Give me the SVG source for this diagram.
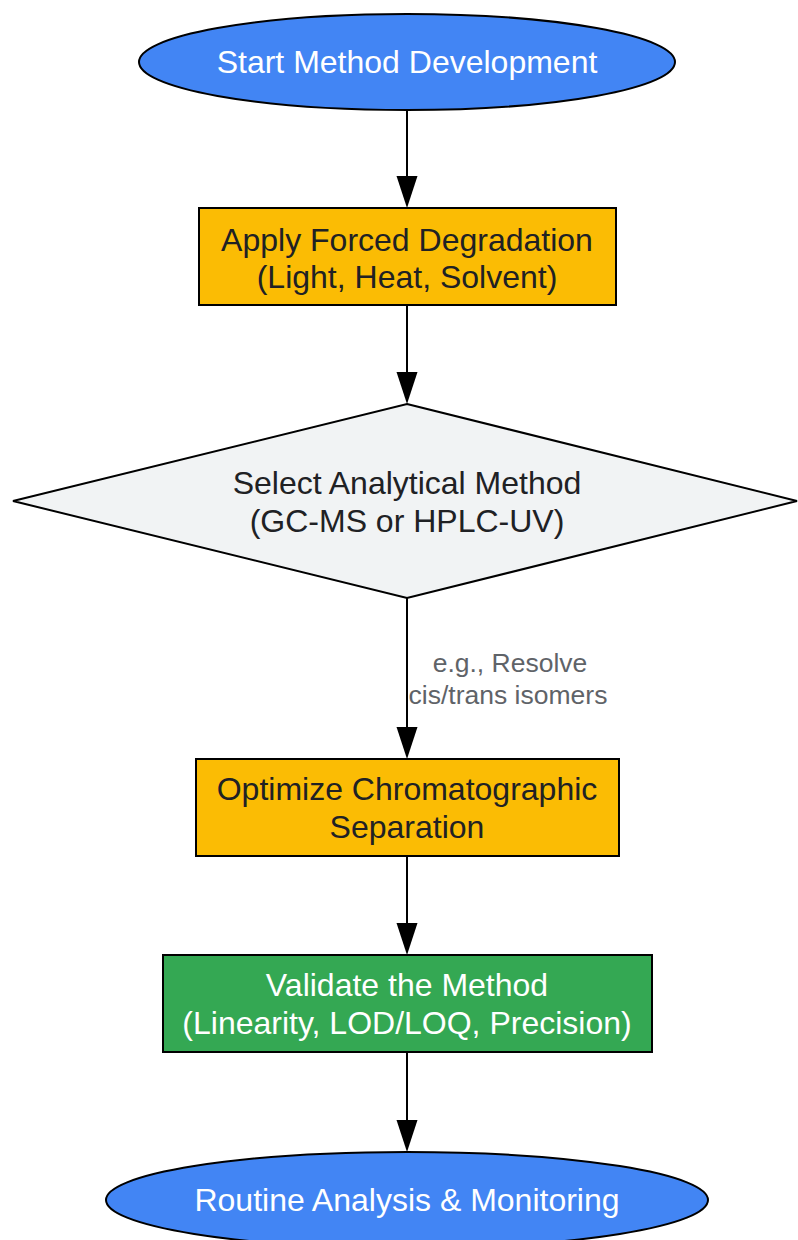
<svg xmlns="http://www.w3.org/2000/svg" width="798" height="1240" viewBox="0 0 798 1240">
<defs>
<style>
.n{stroke:#000;stroke-width:2}
.t{font-family:"Liberation Sans",Arial,sans-serif;font-size:32px;text-anchor:middle}
.w{fill:#fff}
.d{fill:#202124}
.e{stroke:#000;stroke-width:2;fill:none}
.h{fill:#000}
.l{font-family:"Liberation Sans",Arial,sans-serif;font-size:26.5px;text-anchor:middle;fill:#5f6368}
</style>
</defs>
<rect width="798" height="1240" fill="#fff"/>
<g id="edges">
<path class="e" d="M407,110 L407,176"/>
<path class="h" d="M396.5,176 L417.5,176 L407,208 Z"/>
<path class="e" d="M407,305 L407,372"/>
<path class="h" d="M396.5,372 L417.5,372 L407,404 Z"/>
<path class="e" d="M407,598 L407,727"/>
<path class="h" d="M396.5,727 L417.5,727 L407,759 Z"/>
<text class="l" x="510" y="672">e.g., Resolve</text>
<text class="l" x="508" y="704">cis/trans isomers</text>
<path class="e" d="M407,856 L407,923"/>
<path class="h" d="M396.5,923 L417.5,923 L407,955 Z"/>
<path class="e" d="M407,1052 L407,1120"/>
<path class="h" d="M396.5,1120 L417.5,1120 L407,1152 Z"/>
</g>
<g id="start">
<ellipse class="n" cx="407" cy="62" rx="268" ry="48" fill="#4285f4"/>
<text class="t w" x="407" y="73">Start Method Development</text>
</g>
<g id="degrade">
<rect class="n" x="199" y="208" width="417" height="97" fill="#fbbc04"/>
<text class="t d" x="407" y="251">Apply Forced Degradation</text>
<text class="t d" x="407" y="288">(Light, Heat, Solvent)</text>
</g>
<g id="select">
<polygon class="n" points="407,404 797,501 407,598 13,501" fill="#f1f3f4"/>
<text class="t d" x="407" y="494">Select Analytical Method</text>
<text class="t d" x="407" y="532">(GC-MS or HPLC-UV)</text>
</g>
<g id="optimize">
<rect class="n" x="196" y="759" width="423" height="97" fill="#fbbc04"/>
<text class="t d" x="407" y="800">Optimize Chromatographic</text>
<text class="t d" x="407" y="838">Separation</text>
</g>
<g id="validate">
<rect class="n" x="163" y="955" width="489" height="97" fill="#34a853"/>
<text class="t w" x="407" y="996">Validate the Method</text>
<text class="t w" x="407" y="1034">(Linearity, LOD/LOQ, Precision)</text>
</g>
<g id="routine">
<ellipse class="n" cx="407" cy="1200" rx="301" ry="48" fill="#4285f4"/>
<text class="t w" x="407" y="1211">Routine Analysis &amp; Monitoring</text>
</g>
</svg>
